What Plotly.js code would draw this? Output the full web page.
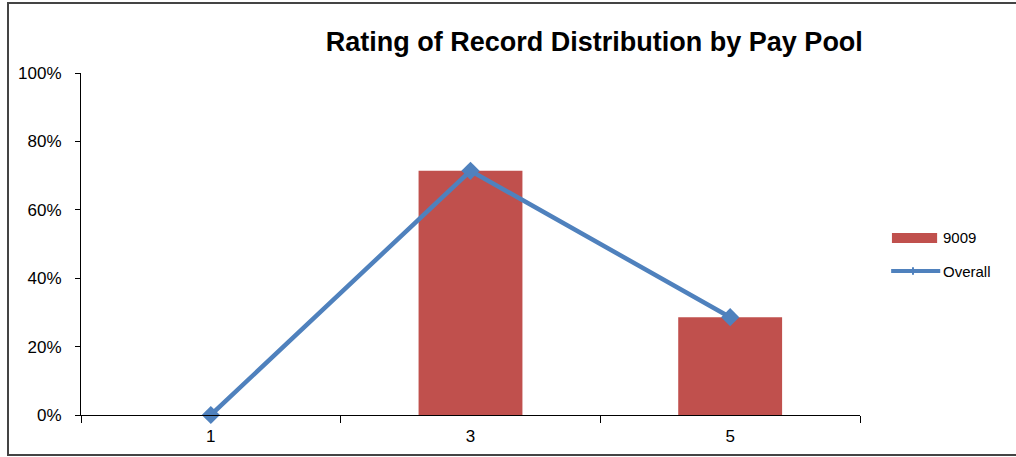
<!DOCTYPE html>
<html>
<head>
<meta charset="utf-8">
<script src="https://cdn.plot.ly/plotly-3.0.1.min.js"></script>
<style>
  html, body { margin: 0; padding: 0; background: #fff; }
  #wrap { position: relative; width: 1016px; height: 457px; overflow: hidden; }
  #frame { position: absolute; left: 7px; top: 2px; width: 1020px; height: 450px;
           border-left: 2px solid #444; border-top: 2px solid #444; border-bottom: 2px solid #444;
           pointer-events: none; }
  #chart { position: absolute; left: 0; top: 0; width: 1016px; height: 457px; }
</style>
</head>
<body>
<div id="wrap">
  <div id="chart"></div>
  <div id="frame"></div>
</div>
<script>
// Rating categories and share of records per rating
const ratings = ['1', '3', '5'];
const pool9009 = [0, 0.714, 0.286];
const overall = [0, 0.714, 0.286];
const yTicks = [0, 0.2, 0.4, 0.6, 0.8, 1.0];
const seriesNames = ['9009', 'Overall'];

const barColor = '#c0504d';
const lineColor = '#4f81bd';
const FONT = 'Liberation Sans, Arial, sans-serif';

const traces = [
  {
    type: 'bar',
    name: seriesNames[0],
    x: ratings,
    y: pool9009,
    width: 0.4,
    marker: { color: barColor },
    showlegend: false
  },
  {
    type: 'scatter',
    mode: 'lines+markers',
    name: seriesNames[1],
    x: ratings,
    y: overall,
    line: { color: lineColor, width: 4.5 },
    marker: { symbol: 'diamond', size: 14, color: lineColor },
    cliponaxis: false,
    showlegend: false
  }
];

// Legend keys drawn beside the plot area (paper coordinates)
const legendShapes = [
  { type: 'rect', xref: 'paper', yref: 'paper',
    x0: 1.041, x1: 1.099, y0: 0.503, y1: 0.532,
    fillcolor: barColor, line: { width: 0 } },
  { type: 'line', xref: 'paper', yref: 'paper',
    x0: 1.040, x1: 1.103, y0: 0.421, y1: 0.421,
    line: { color: lineColor, width: 4 } },
  { type: 'line', xref: 'paper', yref: 'paper',
    x0: 1.068, x1: 1.068, y0: 0.410, y1: 0.432,
    line: { color: lineColor, width: 2 } }
];
const legendLabels = [
  { xref: 'paper', yref: 'paper', x: 1.104, y: 0.518, xanchor: 'left', yanchor: 'middle',
    text: seriesNames[0], showarrow: false, font: { size: 15, family: FONT, color: '#000' } },
  { xref: 'paper', yref: 'paper', x: 1.104, y: 0.421, xanchor: 'left', yanchor: 'middle',
    text: seriesNames[1], showarrow: false, font: { size: 15, family: FONT, color: '#000' } }
];

const layout = {
  width: 1016,
  height: 457,
  paper_bgcolor: '#fff',
  plot_bgcolor: '#fff',
  margin: { l: 81, r: 156, t: 73, b: 42 },
  font: { family: FONT, color: '#000', size: 17 },
  title: {
    text: '<b>Rating of Record Distribution by Pay Pool</b>',
    font: { size: 27, color: '#000', family: FONT },
    x: 0.585, xanchor: 'center',
    y: 0.91, yanchor: 'middle'
  },
  xaxis: {
    type: 'category',
    showline: true,
    linecolor: '#000',
    linewidth: 1,
    ticks: 'outside',
    tickson: 'boundaries',
    ticklen: 7,
    tickcolor: '#000',
    ticklabelstandoff: 6,
    showgrid: false,
    zeroline: false,
    tickfont: { size: 17 }
  },
  yaxis: {
    range: [0, 1],
    tickvals: yTicks,
    tickformat: '.0%',
    showline: true,
    linecolor: '#000',
    linewidth: 1,
    ticks: 'outside',
    ticklen: 5,
    tickcolor: '#000',
    ticklabelstandoff: 10,
    showgrid: false,
    zeroline: false,
    tickfont: { size: 17 }
  },
  showlegend: false,
  shapes: legendShapes,
  annotations: legendLabels,
  bargap: 0.6
};

Plotly.newPlot('chart', traces, layout, { displayModeBar: false, staticPlot: true });
</script>
</body>
</html>
